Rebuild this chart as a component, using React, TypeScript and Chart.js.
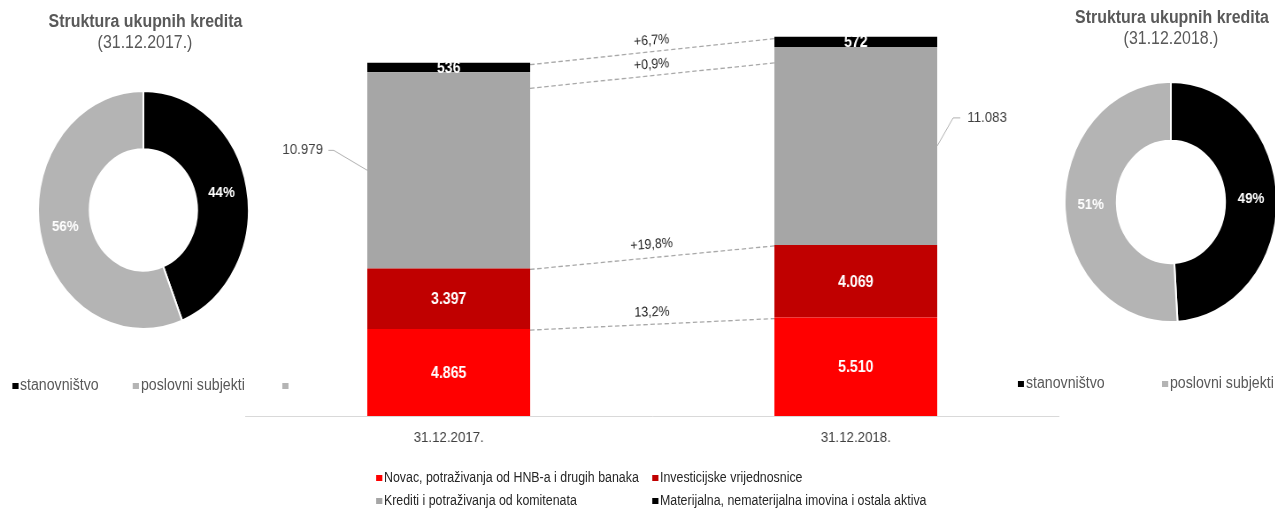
import React, { useEffect, useRef } from "react";
import { Chart, registerables } from "chart.js";

Chart.register(...registerables);

// ---------- data ----------
const categories = ["31.12.2017.", "31.12.2018."];
const seriesNames = [
  "Novac, potraživanja od HNB-a i drugih banaka",
  "Investicijske vrijednosnice",
  "Krediti i potraživanja od komitenata",
  "Materijalna, nematerijalna imovina i ostala aktiva",
];
const novac = [4865, 5510];
const investicijske = [3397, 4069];
const krediti = [10979, 11083];
const materijalna = [536, 572];
const changeLabels = ["13,2%", "+19,8%", "+0,9%", "+6,7%"];

const donutLabels = ["stanovništvo", "poslovni subjekti"];
const donut2017 = [44, 56];
const donut2018 = [49, 51];
const donutTitle = "Struktura ukupnih kredita";
const donutDates = ["(31.12.2017.)", "(31.12.2018.)"];

// ---------- styles ----------
const S = 0.885; // horizontal condensation of the whole picture
const PAGE_W = 1275;
const PAGE_H = 508;
const INNER_W = PAGE_W / S;
const FONT = '"Liberation Sans", Arial, sans-serif';
const barColors = ["#ff0000", "#c00000", "#a6a6a6", "#000000"];
const donutColors = ["#000000", "#b4b4b4"];
const lineOffsets = [1, 1, 16, 2];
const labelLift = [12, 13, 11, 11];
const leaderDx = [38, 18];
const leaderDy = [-20, -28];
const leaderH = [6, 8];
const leaderGap = [6, 8];

const fmt = (n: number) => String(n).replace(/\B(?=(\d{3})+(?!\d))/g, ".");

const barPlugin = {
  id: "barAnnotations",
  afterDatasetsDraw(chart: any) {
    const ctx = chart.ctx as CanvasRenderingContext2D;
    const metas = chart.data.datasets.map((_: any, i: number) => chart.getDatasetMeta(i));
    // dashed connection lines + change labels
    metas.forEach((m: any, i: number) => {
      const a = m.data[0];
      const b = m.data[1];
      const off = lineOffsets[i];
      const x1 = a.x + a.width / 2;
      const y1 = a.y + off;
      const x2 = b.x - b.width / 2;
      const y2 = b.y + off;
      ctx.save();
      ctx.strokeStyle = "#a8a8a8";
      ctx.lineWidth = 1.3;
      ctx.setLineDash([5, 3]);
      ctx.beginPath();
      ctx.moveTo(x1, y1);
      ctx.lineTo(x2, y2);
      ctx.stroke();
      ctx.setLineDash([]);
      const ang = Math.atan2(y2 - y1, x2 - x1);
      ctx.translate((x1 + x2) / 2, (y1 + y2) / 2);
      ctx.rotate(ang * 0.7);
      ctx.fillStyle = "#262626";
      ctx.font = `14px ${FONT}`;
      ctx.textAlign = "center";
      ctx.textBaseline = "middle";
      ctx.fillText(changeLabels[i], 0, -labelLift[i]);
      ctx.restore();
    });
    // values inside segments
    metas.forEach((m: any, i: number) => {
      if (i === 2) return;
      m.data.forEach((el: any, j: number) => {
        const v = chart.data.datasets[i].data[j];
        ctx.save();
        ctx.fillStyle = "#ffffff";
        ctx.font = `bold 16px ${FONT}`;
        ctx.textAlign = "center";
        ctx.textBaseline = "middle";
        ctx.fillText(fmt(v), el.x, (el.y + el.base) / 2 + 1);
        ctx.restore();
      });
    });
    // leader labels for the grey segment
    const km = metas[2];
    km.data.forEach((el: any, j: number) => {
      const side = j === 0 ? -1 : 1;
      const sx = el.x + (side * el.width) / 2;
      const sy = (el.y + el.base) / 2;
      const ex = sx + side * leaderDx[j];
      const ey = sy + leaderDy[j];
      const hx = ex + side * leaderH[j];
      ctx.save();
      ctx.strokeStyle = "#b0b0b0";
      ctx.lineWidth = 1;
      ctx.beginPath();
      ctx.moveTo(sx, sy);
      ctx.lineTo(ex, ey);
      ctx.lineTo(hx, ey);
      ctx.stroke();
      ctx.fillStyle = "#404040";
      ctx.font = `15px ${FONT}`;
      ctx.textAlign = side < 0 ? "right" : "left";
      ctx.textBaseline = "middle";
      ctx.fillText(fmt(chart.data.datasets[2].data[j]), hx + side * leaderGap[j], ey);
      ctx.restore();
    });
  },
};

const pctPlugin = {
  id: "pctLabels",
  afterDatasetsDraw(chart: any) {
    const ctx = chart.ctx as CanvasRenderingContext2D;
    const meta = chart.getDatasetMeta(0);
    meta.data.forEach((arc: any, i: number) => {
      const p = arc.getCenterPoint();
      ctx.save();
      ctx.fillStyle = "#ffffff";
      ctx.font = `bold 15px ${FONT}`;
      ctx.textAlign = "center";
      ctx.textBaseline = "middle";
      ctx.fillText(`${chart.data.datasets[0].data[i]}%`, p.x, p.y);
      ctx.restore();
    });
  },
};

const BAR_LEFT = 245 / S;
const BAR_W = Math.round((1059 - 245) / S);
const BAR_H = 450;

function BarChart() {
  const ref = useRef<HTMLCanvasElement>(null);
  useEffect(() => {
    const chart = new Chart(ref.current as HTMLCanvasElement, {
      type: "bar",
      data: {
        labels: categories,
        datasets: [novac, investicijske, krediti, materijalna].map((d, i) => ({
          label: seriesNames[i],
          data: d,
          backgroundColor: barColors[i],
          borderWidth: 0,
          barPercentage: 0.4,
          categoryPercentage: 1,
        })),
      },
      options: {
        animation: false,
        responsive: false,
        maintainAspectRatio: false,
        layout: { padding: { top: 23, left: 0, right: 0, bottom: 0 } },
        plugins: { legend: { display: false }, tooltip: { enabled: false } },
        scales: {
          x: {
            stacked: true,
            grid: { display: false },
            border: { display: true, color: "#d9d9d9", width: 1 },
            ticks: { color: "#404040", font: { family: FONT, size: 15 }, padding: 5 },
            afterFit: (s: any) => {
              s.height = 34;
            },
          },
          y: { stacked: true, display: false, min: 0, max: 22000 },
        },
      } as any,
      plugins: [barPlugin],
    });
    return () => chart.destroy();
  }, []);
  return (
    <canvas
      ref={ref}
      width={BAR_W}
      height={BAR_H}
      style={{ position: "absolute", left: BAR_LEFT, top: 0, width: BAR_W, height: BAR_H }}
    />
  );
}

function Donut({ values, cx, cy, size }: { values: number[]; cx: number; cy: number; size: number }) {
  const ref = useRef<HTMLCanvasElement>(null);
  useEffect(() => {
    const chart = new Chart(ref.current as HTMLCanvasElement, {
      type: "doughnut",
      data: {
        labels: donutLabels,
        datasets: [{ data: values, backgroundColor: donutColors, borderColor: "#ffffff", borderWidth: 2 }],
      },
      options: {
        animation: false,
        responsive: false,
        maintainAspectRatio: false,
        cutout: "51%",
        layout: { padding: 0 },
        plugins: { legend: { display: false }, tooltip: { enabled: false } },
      } as any,
      plugins: [pctPlugin],
    });
    return () => chart.destroy();
  }, []);
  return (
    <canvas
      ref={ref}
      width={size}
      height={size}
      style={{ position: "absolute", left: cx - size / 2, top: cy - size / 2, width: size, height: size }}
    />
  );
}

function Text({ cx, cy, children, bold, size, color }: any) {
  return (
    <div
      style={{
        position: "absolute",
        left: cx - 200,
        width: 400,
        top: cy - 11,
        height: 22,
        lineHeight: "22px",
        textAlign: "center",
        whiteSpace: "nowrap",
        fontFamily: FONT,
        fontWeight: bold ? "bold" : "normal",
        fontSize: size,
        color,
      }}
    >
      {children}
    </div>
  );
}

function LegendItem({ x, cy, color, label, size, textColor, mark }: any) {
  return (
    <div
      style={{
        position: "absolute",
        left: x,
        top: cy - 11,
        height: 22,
        display: "flex",
        alignItems: "center",
        whiteSpace: "nowrap",
        fontFamily: FONT,
        fontSize: size,
        color: textColor,
      }}
    >
      <span style={{ display: "inline-block", width: mark, height: mark - 1, background: color, marginRight: 2, marginTop: 2 }} />
      <span>{label}</span>
    </div>
  );
}

export default function App() {
  const X = (x: number) => x / S;
  return (
    <div style={{ position: "absolute", left: 0, top: 0, width: PAGE_W, height: PAGE_H, overflow: "hidden", background: "#fff" }}>
      <div
        style={{
          position: "absolute",
          left: 0,
          top: 0,
          width: INNER_W,
          height: PAGE_H,
          transform: `scaleX(${S})`,
          transformOrigin: "0 0",
        }}
      >
        {/* left donut */}
        <Text cx={X(145.5)} cy={21} bold size={18} color="#595959">{donutTitle}</Text>
        <Text cx={X(145)} cy={42} size={18} color="#595959">{donutDates[0]}</Text>
        <Donut values={donut2017} cx={X(143.5)} cy={210} size={240} />
        <LegendItem x={X(12)} cy={385} color={donutColors[0]} label={donutLabels[0]} size={16} textColor="#595959" mark={7} />
        <LegendItem x={X(133)} cy={385} color={donutColors[1]} label={donutLabels[1]} size={16} textColor="#595959" mark={7} />
        <LegendItem x={X(282)} cy={385} color={donutColors[1]} label="" size={16} textColor="#595959" mark={7} />

        {/* middle stacked bars */}
        <BarChart />
        <LegendItem x={X(376)} cy={477} color={barColors[0]} label={seriesNames[0]} size={14} textColor="#262626" mark={7} />
        <LegendItem x={X(652)} cy={477} color={barColors[1]} label={seriesNames[1]} size={14} textColor="#262626" mark={7} />
        <LegendItem x={X(376)} cy={500} color={barColors[2]} label={seriesNames[2]} size={14} textColor="#262626" mark={7} />
        <LegendItem x={X(652)} cy={500} color={barColors[3]} label={seriesNames[3]} size={14} textColor="#262626" mark={7} />

        {/* right donut */}
        <Text cx={X(1172)} cy={17} bold size={18} color="#595959">{donutTitle}</Text>
        <Text cx={X(1171)} cy={38} size={18} color="#595959">{donutDates[1]}</Text>
        <Donut values={donut2018} cx={X(1170.5)} cy={202} size={242} />
        <LegendItem x={X(1018)} cy={383} color={donutColors[0]} label={donutLabels[0]} size={16} textColor="#595959" mark={7} />
        <LegendItem x={X(1162)} cy={383} color={donutColors[1]} label={donutLabels[1]} size={16} textColor="#595959" mark={7} />
      </div>
    </div>
  );
}
